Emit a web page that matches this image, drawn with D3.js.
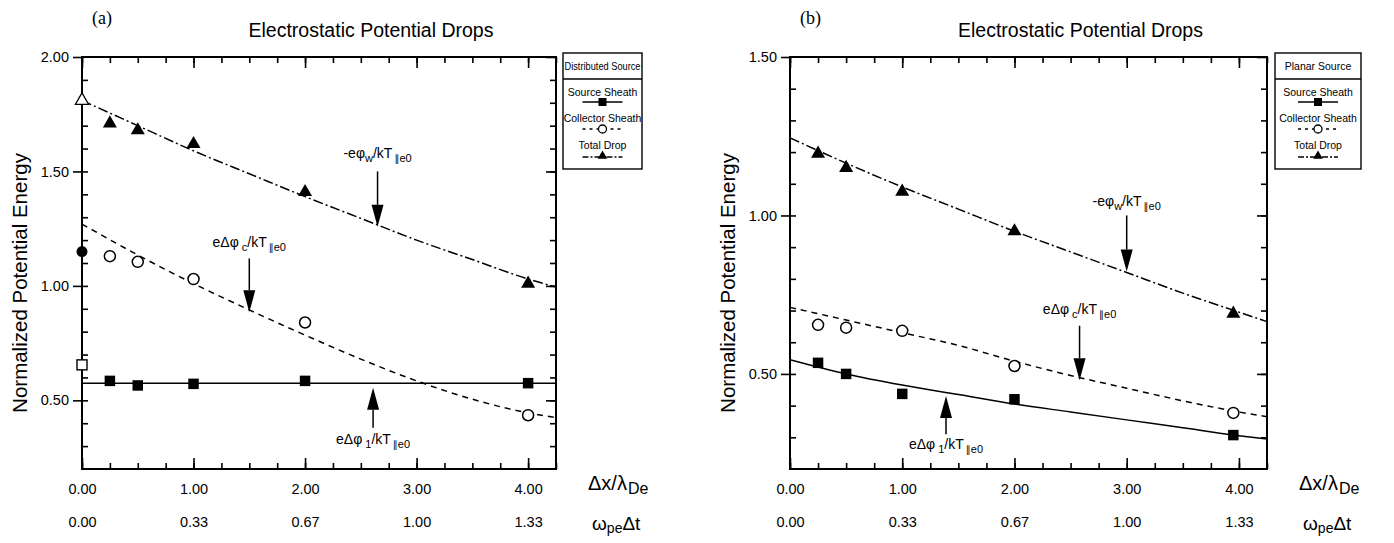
<!DOCTYPE html>
<html>
<head>
<meta charset="utf-8">
<script src="https://cdn.jsdelivr.net/npm/d3@7"></script>
<style>
  body { margin: 0; background: #fff; }
  svg { font-family: "Liberation Sans", Arial, Helvetica, sans-serif; }
  .frame { fill: none; stroke: #000; stroke-width: 2; }
  .axis path { display: none; }
  .axis line { stroke: #000; stroke-width: 1.6; }
  .axis text { font-size: 14.5px; fill: #000; font-family: "Liberation Sans", Arial, sans-serif; }
  .fit { fill: none; stroke: #000; stroke-width: 1.5; }
  .legend rect { fill: #fff; stroke: #000; stroke-width: 1.4; }
  .legend text { font-size: 10.5px; }
  .par { font-family: "DejaVu Sans", sans-serif; }
</style>
</head>
<body>
<script>
(function () {

    //x axis ticks and the two rows of labels
    var xMajor = [0, 1, 2, 3, 4];
    var xLabels = ["0.00", "1.00", "2.00", "3.00", "4.00"];
    var tLabels = ["0.00", "0.33", "0.67", "1.00", "1.33"];

    //panel (a) : distributed source
    var yTicksA = [0.5, 1.0, 1.5, 2.0];
    var yLabelsA = ["0.50", "1.00", "1.50", "2.00"];
    var dxA = [0.25, 0.5, 1, 2, 4];
    var sourceA = [0.585, 0.565, 0.572, 0.585, 0.575];
    var collectorA = [1.13, 1.105, 1.03, 0.84, 0.435];
    var totalA = [1.71, 1.68, 1.62, 1.41, 1.01];
    //values drawn on the axis at dx = 0
    var zeroTotalA = [1.81];      //open triangle
    var zeroCollectorA = [1.15];  //filled circle
    var zeroSourceA = [0.655];    //open square

    //fitted curves (a)
    var fitX = [0, 0.5, 1, 1.5, 2, 2.5, 3, 3.5, 4, 4.25];
    var sourceFitA = [0.575, 0.575, 0.575, 0.575, 0.575, 0.575, 0.575, 0.575, 0.575, 0.575];
    var collectorFitA = [1.27, 1.135, 1.01, 0.895, 0.785, 0.68, 0.585, 0.505, 0.445, 0.425];
    var totalFitA = [1.81, 1.70, 1.59, 1.49, 1.39, 1.295, 1.20, 1.115, 1.03, 0.995];

    //panel (b) : planar source
    var yTicksB = [0.5, 1.0, 1.5];
    var yLabelsB = ["0.50", "1.00", "1.50"];
    var dxB = [0.25, 0.5, 1, 2, 3.95];
    var sourceB = [0.535, 0.50, 0.437, 0.42, 0.307];
    var collectorB = [0.655, 0.646, 0.636, 0.525, 0.377];
    var totalB = [1.195, 1.15, 1.075, 0.95, 0.69];

    var sourceFitB = [0.545, 0.50, 0.465, 0.435, 0.405, 0.38, 0.355, 0.33, 0.305, 0.295];
    var collectorFitB = [0.71, 0.67, 0.63, 0.59, 0.54, 0.495, 0.455, 0.415, 0.38, 0.365];
    var totalFitB = [1.245, 1.165, 1.09, 1.02, 0.95, 0.885, 0.82, 0.755, 0.695, 0.665];

    //arrow annotations, in data units: x, tail, tip, label baseline, subscript
    var notesA = [
        { name: "w", x: 2.65, tail: 1.50, tip: 1.258, label: 1.56 },
        { name: "c", x: 1.50, tail: 1.12, tip: 0.885, label: 1.17 },
        { name: "1", x: 2.61, tail: 0.38, tip: 0.555, label: 0.31 }
    ];
    var notesB = [
        { name: "w", x: 3.00, tail: 1.00, tip: 0.823, label: 1.03 },
        { name: "c", x: 2.58, tail: 0.652, tip: 0.48, label: 0.69 },
        { name: "1", x: 1.39, tail: 0.31, tip: 0.43, label: 0.262 }
    ];

    var svg = d3.select("body").append("svg")
        .attr("width", 1394)
        .attr("height", 543);

    drawPanel({
        tag: "(a)", left: 82, right: 556, top: 57, bottom: 469,
        yDomain: [0.2, 2.0], yTicks: yTicksA, yLabels: yLabelsA,
        dx: dxA, source: sourceA, collector: collectorA, total: totalA,
        sourceFit: sourceFitA, collectorFit: collectorFitA, totalFit: totalFitA,
        notes: notesA, legendTitle: "Distributed Source", legendX: 563, legendW: 79
    });

    drawPanel({
        tag: "(b)", left: 790, right: 1267, top: 57, bottom: 469,
        yDomain: [0.2, 1.5], yTicks: yTicksB, yLabels: yLabelsB,
        dx: dxB, source: sourceB, collector: collectorB, total: totalB,
        sourceFit: sourceFitB, collectorFit: collectorFitB, totalFit: totalFitB,
        notes: notesB, legendTitle: "Planar Source", legendX: 1275, legendW: 86
    });

    //extra points of (a) sitting on the y axis
    var xa = d3.scaleLinear().domain([0, 4.25]).range([82, 556]);
    var ya = d3.scaleLinear().domain([0.2, 2.0]).range([469, 57]);
    svg.selectAll(".zt").data(zeroTotalA).enter().append("path")
        .attr("d", d3.symbol().type(d3.symbolTriangle).size(75))
        .attr("transform", function (d) { return "translate(" + xa(0) + "," + ya(d) + ")"; })
        .style("fill", "#fff").style("stroke", "#000").style("stroke-width", 1.3);
    svg.selectAll(".zc").data(zeroCollectorA).enter().append("circle")
        .attr("cx", xa(0)).attr("cy", function (d) { return ya(d); })
        .attr("r", 5.5).style("fill", "#000");
    svg.selectAll(".zs").data(zeroSourceA).enter().append("rect")
        .attr("x", xa(0) - 5).attr("y", function (d) { return ya(d) - 5; })
        .attr("width", 10).attr("height", 10)
        .style("fill", "#fff").style("stroke", "#000").style("stroke-width", 1.4);

    function drawPanel(p) {
        var x = d3.scaleLinear().domain([0, 4.25]).range([p.left, p.right]);
        var y = d3.scaleLinear().domain(p.yDomain).range([p.bottom, p.top]);
        var g = svg.append("g");

        var xMinor = d3.range(0, 4.26, 0.25);
        var yMinor = d3.range(p.yDomain[0] + 0.1, p.yDomain[1] - 0.05, 0.1);

        //minor ticks, inward on all sides
        g.append("g").attr("class", "axis").attr("transform", "translate(0," + p.bottom + ")")
            .call(d3.axisBottom(x).tickValues(xMinor).tickSize(-6).tickFormat(""));
        g.append("g").attr("class", "axis").attr("transform", "translate(0," + p.top + ")")
            .call(d3.axisTop(x).tickValues(xMinor).tickSize(-6).tickFormat(""));
        g.append("g").attr("class", "axis").attr("transform", "translate(" + p.left + ",0)")
            .call(d3.axisLeft(y).tickValues(yMinor).tickSize(-6).tickFormat(""));
        g.append("g").attr("class", "axis").attr("transform", "translate(" + p.right + ",0)")
            .call(d3.axisRight(y).tickValues(yMinor).tickSize(-6).tickFormat(""));

        //major ticks with labels
        g.append("g").attr("class", "axis").attr("transform", "translate(0," + p.bottom + ")")
            .call(d3.axisBottom(x).tickValues(xMajor).tickSize(-11).tickPadding(15)
                .tickFormat(function (d, i) { return xLabels[i]; }));
        g.append("g").attr("class", "axis").attr("transform", "translate(0," + p.bottom + ")")
            .call(d3.axisBottom(x).tickValues(xMajor).tickSize(0).tickPadding(48)
                .tickFormat(function (d, i) { return tLabels[i]; }));
        g.append("g").attr("class", "axis").attr("transform", "translate(0," + p.top + ")")
            .call(d3.axisTop(x).tickValues(xMajor).tickSize(-11).tickFormat(""));
        g.append("g").attr("class", "axis").attr("transform", "translate(" + p.left + ",0)")
            .call(d3.axisLeft(y).tickValues(p.yTicks).tickSize(9).tickPadding(4)
                .tickFormat(function (d, i) { return p.yLabels[i]; }));
        g.append("g").attr("class", "axis").attr("transform", "translate(" + p.right + ",0)")
            .call(d3.axisRight(y).tickValues(p.yTicks).tickSize(-10).tickFormat(""));

        //frame
        g.append("rect").attr("class", "frame")
            .attr("x", p.left).attr("y", p.top)
            .attr("width", p.right - p.left).attr("height", p.bottom - p.top);

        //fitted curves
        var line = d3.line()
            .x(function (d, i) { return x(fitX[i]); })
            .y(function (d) { return y(d); })
            .curve(d3.curveMonotoneX);
        g.append("path").datum(p.sourceFit).attr("class", "fit").attr("d", line);
        g.append("path").datum(p.collectorFit).attr("class", "fit").attr("d", line)
            .style("stroke-dasharray", "6,5");
        g.append("path").datum(p.totalFit).attr("class", "fit").attr("d", line)
            .style("stroke-dasharray", "10,3,2,3");

        //markers
        g.selectAll(".sq").data(p.source).enter().append("path")
            .attr("d", d3.symbol().type(d3.symbolSquare).size(110))
            .attr("transform", function (d, i) { return "translate(" + x(p.dx[i]) + "," + y(d) + ")"; })
            .style("fill", "#000");
        g.selectAll(".ci").data(p.collector).enter().append("circle")
            .attr("cx", function (d, i) { return x(p.dx[i]); })
            .attr("cy", function (d) { return y(d); })
            .attr("r", 5.5)
            .style("fill", "#fff").style("stroke", "#000").style("stroke-width", 1.5);
        g.selectAll(".tr").data(p.total).enter().append("path")
            .attr("d", d3.symbol().type(d3.symbolTriangle).size(85))
            .attr("transform", function (d, i) { return "translate(" + x(p.dx[i]) + "," + y(d) + ")"; })
            .style("fill", "#000");

        //arrows and their labels
        p.notes.forEach(function (n) {
            var ax = x(n.x), y0 = y(n.tail), y1 = y(n.tip);
            var dir = y1 > y0 ? 1 : -1;
            var base = y1 - dir * 22;
            g.append("line")
                .attr("x1", ax).attr("x2", ax).attr("y1", y0).attr("y2", base)
                .style("stroke", "#000").style("stroke-width", 1.5);
            g.append("path")
                .attr("d", "M" + (ax - 6) + "," + base + "L" + (ax + 6) + "," + base + "L" + ax + "," + y1 + "Z")
                .style("fill", "#000");
            var t = g.append("text")
                .attr("x", ax).attr("y", y(n.label))
                .attr("text-anchor", "middle")
                .style("font-size", "14px");
            if (n.name === "w") {
                t.append("tspan").text("-eφ");
                t.append("tspan").attr("dy", 4).style("font-size", "11px").text("w");
            } else {
                t.append("tspan").text("eΔφ");
                t.append("tspan").attr("dy", 4).attr("dx", 3).style("font-size", "11px").text(n.name);
            }
            t.append("tspan").attr("dy", -4).text("/kT");
            t.append("tspan").attr("dy", 4).attr("dx", 2).attr("class", "par").style("font-size", "10px").text("∥");
            t.append("tspan").style("font-size", "11px").text("e0");
        });

        //titles and axis names
        svg.append("text")
            .attr("x", p.left + 10).attr("y", 24)
            .style("font-family", "'Liberation Serif', 'Times New Roman', serif")
            .style("font-size", "18px")
            .text(p.tag);
        svg.append("text")
            .attr("x", (p.left + p.right) / 2 + 52).attr("y", 37)
            .attr("text-anchor", "middle")
            .style("font-size", "19.5px")
            .text("Electrostatic Potential Drops");
        svg.append("text")
            .attr("transform", "translate(" + (p.left - 55) + "," + ((p.top + p.bottom) / 2 + 20) + ") rotate(-90)")
            .attr("text-anchor", "middle")
            .style("font-size", "20.5px")
            .text("Normalized Potential Energy");

        var ax1 = svg.append("text").attr("x", p.right + 32).attr("y", 490).style("font-size", "20px");
        ax1.append("tspan").text("Δx/λ");
        ax1.append("tspan").attr("dy", 4).attr("dx", 1).style("font-size", "16px").text("De");
        var ax2 = svg.append("text").attr("x", p.right + 36).attr("y", 530).style("font-size", "19px");
        ax2.append("tspan").text("ω");
        ax2.append("tspan").attr("dy", 3).style("font-size", "14px").text("pe");
        ax2.append("tspan").attr("dy", -3).text("Δt");

        //legend box
        var lg = svg.append("g").attr("class", "legend");
        var lx = p.legendX, lw = p.legendW, cx = lx + lw / 2;
        lg.append("rect").attr("x", lx).attr("y", 53).attr("width", lw).attr("height", 116);
        lg.append("line").attr("x1", lx).attr("x2", lx + lw).attr("y1", 79).attr("y2", 79)
            .style("stroke", "#000").style("stroke-width", 1.4);
        lg.append("text").attr("x", cx).attr("y", 70).attr("text-anchor", "middle")
            .attr("textLength", p.legendTitle.length > 14 ? lw - 3 : null)
            .attr("lengthAdjust", "spacingAndGlyphs")
            .text(p.legendTitle);

        var items = [
            { name: "Source Sheath", ty: 96, ly: 102, dash: null, mark: "sq" },
            { name: "Collector Sheath", ty: 122, ly: 129, dash: "3,4", mark: "ci" },
            { name: "Total Drop", ty: 149, ly: 157, dash: "6,2,2,2", mark: "tr" }
        ];
        items.forEach(function (it) {
            lg.append("text").attr("x", cx).attr("y", it.ty).attr("text-anchor", "middle").text(it.name);
            lg.append("line").attr("x1", cx - 20).attr("x2", cx + 20).attr("y1", it.ly).attr("y2", it.ly)
                .style("stroke", "#000").style("stroke-width", 1.3)
                .style("stroke-dasharray", it.dash);
            if (it.mark === "sq") {
                lg.append("rect").attr("x", cx - 4).attr("y", it.ly - 4).attr("width", 8).attr("height", 8)
                    .style("fill", "#000").style("stroke", "none");
            } else if (it.mark === "ci") {
                lg.append("circle").attr("cx", cx).attr("cy", it.ly).attr("r", 4)
                    .style("fill", "#fff").style("stroke", "#000").style("stroke-width", 1.3);
            } else {
                lg.append("path").attr("d", d3.symbol().type(d3.symbolTriangle).size(40))
                    .attr("transform", "translate(" + cx + "," + (it.ly - 1) + ")")
                    .style("fill", "#000");
            }
        });
    }

})();
</script>
</body>
</html>
